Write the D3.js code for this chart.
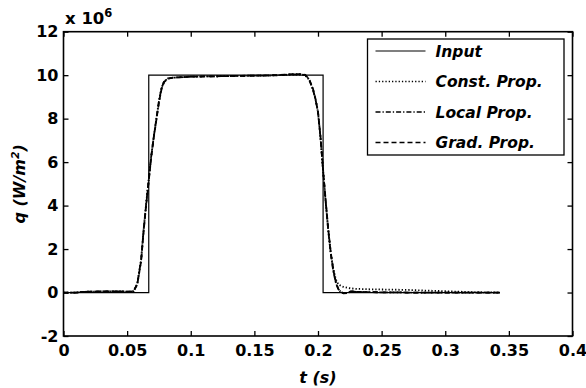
<!DOCTYPE html>
<html>
<head>
<meta charset="utf-8">
<script src="https://cdn.jsdelivr.net/npm/d3@7/dist/d3.min.js"></script>
<style>
  html, body { margin: 0; padding: 0; background: #fff; }
  svg { display: block; }
  svg text { font-family: "DejaVu Sans", "Liberation Sans", Arial, sans-serif; font-weight: bold; fill: #000; }
</style>
</head>
<body>
<svg id="chart" width="586" height="388"></svg>
<script>
// ---- data (q in units of 10^6 W/m^2) ----
const inputT = [0, 0.067, 0.067, 0.204, 0.204, 0.343];
const inputQ = [0, 0, 10, 10, 0, 0];

const estT = [0, 0.01, 0.015, 0.03, 0.045, 0.052, 0.055, 0.058, 0.061, 0.063, 0.065, 0.067, 0.069, 0.071, 0.073, 0.075, 0.077, 0.079, 0.082, 0.085, 0.09, 0.1, 0.12, 0.14, 0.16, 0.17, 0.18, 0.186, 0.19, 0.193, 0.196, 0.198, 0.200, 0.202, 0.204, 0.206, 0.208, 0.210, 0.212, 0.214, 0.216, 0.218, 0.220, 0.223, 0.226, 0.23, 0.24, 0.25, 0.26, 0.27, 0.28, 0.29, 0.30, 0.31, 0.32, 0.33, 0.343];
const constProp = [0, 0, 0.03, 0.05, 0.05, 0.04, 0.06, 0.4, 1.5, 2.9, 4.1, 5.2, 6.3, 7.2, 8.0, 8.8, 9.4, 9.7, 9.85, 9.88, 9.9, 9.93, 9.95, 9.97, 9.98, 10.0, 10.03, 10.03, 10.0, 9.8, 9.35, 8.9, 8.3, 7.1, 5.6, 4.2, 2.9, 1.85, 1.1, 0.6, 0.38, 0.3, 0.26, 0.22, 0.19, 0.17, 0.15, 0.14, 0.13, 0.12, 0.1, 0.08, 0.06, 0.04, 0.02, 0.01, 0];
const localProp = [0, 0, 0.03, 0.05, 0.05, 0.04, 0.05, 0.4, 1.5, 2.9, 4.1, 5.2, 6.3, 7.2, 8.0, 8.8, 9.4, 9.7, 9.85, 9.88, 9.9, 9.93, 9.95, 9.97, 9.98, 10.0, 10.04, 10.04, 10.0, 9.8, 9.35, 8.9, 8.3, 7.1, 5.6, 4.2, 2.9, 1.8, 1.0, 0.45, 0.15, 0.02, -0.04, -0.02, 0.05, 0.03, 0.02, 0.01, 0.01, 0, 0, 0, 0, 0, 0, 0, 0];
const gradProp = [0, 0, 0.03, 0.05, 0.05, 0.04, 0.05, 0.38, 1.45, 2.85, 4.05, 5.15, 6.25, 7.15, 7.95, 8.75, 9.35, 9.68, 9.84, 9.88, 9.9, 9.93, 9.95, 9.97, 9.99, 10.01, 10.05, 10.05, 10.01, 9.82, 9.38, 8.92, 8.32, 7.15, 5.65, 4.25, 2.95, 1.85, 1.05, 0.48, 0.16, 0.03, -0.03, -0.01, 0.06, 0.03, 0.02, 0.01, 0.01, 0, 0, 0, 0, 0, 0, 0, 0];

const xTicks = [0, 0.05, 0.1, 0.15, 0.2, 0.25, 0.3, 0.35, 0.4];
const xTickLabels = ["0", "0.05", "0.1", "0.15", "0.2", "0.25", "0.3", "0.35", "0.4"];
const yTicks = [-2, 0, 2, 4, 6, 8, 10, 12];
const yTickLabels = ["-2", "0", "2", "4", "6", "8", "10", "12"];

const seriesNames = ["Input", "Const. Prop.", "Local Prop.", "Grad. Prop."];
const seriesDash = [null, "1.3,2", "5,2,1.3,2", "5,3"];

// ---- layout ----
const svg = d3.select("#chart");
const L = 63.5, R = 572.5, T = 31.7, B = 336;
const x = d3.scaleLinear().domain([0, 0.4]).range([L, R]);
const y = d3.scaleLinear().domain([-2, 12]).range([B, T]);

const FS = 16;

const xAxisB = d3.axisBottom(x).tickValues(xTicks).tickFormat((d, i) => xTickLabels[i]).tickSizeInner(-5).tickSizeOuter(0).tickPadding(9);
const xAxisT = d3.axisTop(x).tickValues(xTicks).tickFormat("").tickSizeInner(-5).tickSizeOuter(0);
const yAxisL = d3.axisLeft(y).tickValues(yTicks).tickFormat((d, i) => yTickLabels[i]).tickSizeInner(-5).tickSizeOuter(0).tickPadding(5);
const yAxisR = d3.axisRight(y).tickValues(yTicks).tickFormat("").tickSizeInner(-5).tickSizeOuter(0);

function styleAxis(g) {
  g.attr("font-family", null).attr("font-size", null);
  g.select(".domain").remove();
  g.selectAll(".tick line").attr("stroke", "#000").attr("stroke-width", 1.3);
  g.selectAll(".tick text").attr("font-size", FS).attr("font-weight", "bold").attr("fill", "#000");
}
svg.append("g").attr("transform", `translate(0,${B})`).call(xAxisB).call(styleAxis);
svg.append("g").attr("transform", `translate(0,${T})`).call(xAxisT).call(styleAxis);
svg.append("g").attr("transform", `translate(${L},0)`).call(yAxisL).call(styleAxis);
svg.append("g").attr("transform", `translate(${R},0)`).call(yAxisR).call(styleAxis);

svg.append("rect").attr("x", L).attr("y", T).attr("width", R - L).attr("height", B - T)
  .attr("fill", "none").attr("stroke", "#000").attr("stroke-width", 1.6);

const line = d3.line().x(d => x(d[0])).y(d => y(d[1]));
const lineData = [
  inputT.map((t, i) => [t, inputQ[i]]),
  estT.map((t, i) => [t, constProp[i]]),
  estT.map((t, i) => [t, localProp[i]]),
  estT.map((t, i) => [t, gradProp[i]])
];
const plot = svg.append("g");
lineData.forEach((data, i) => {
  plot.append("path").datum(data).attr("d", line)
    .attr("fill", "none").attr("stroke", "#000")
    .attr("stroke-width", i === 0 ? 1.2 : 1.8)
    .attr("stroke-dasharray", seriesDash[i]);
});

// legend
const legX = 367.5, legY = 39, legW = 196.5, legH = 116;
svg.append("rect").attr("x", legX).attr("y", legY).attr("width", legW).attr("height", legH)
  .attr("fill", "#fff").attr("stroke", "#000").attr("stroke-width", 1.3);
seriesNames.forEach((name, i) => {
  const cy = legY + 12 + i * 30.5;
  svg.append("line").attr("x1", legX + 8).attr("x2", legX + 58).attr("y1", cy).attr("y2", cy)
    .attr("stroke", "#000").attr("stroke-width", i === 0 ? 1.2 : 1.3)
    .attr("stroke-dasharray", seriesDash[i]);
  svg.append("text").attr("x", legX + 68).attr("y", cy).attr("dy", "0.36em")
    .attr("font-size", 15.5).attr("font-style", "italic")
    .text(name);
});

// exponent label
const expT = svg.append("text").attr("x", 65).attr("y", 24).attr("font-size", 16.5);
expT.append("tspan").text("x 10");
expT.append("tspan").attr("dy", -7).attr("font-size", 11.5).text("6");

// axis labels
svg.append("text").attr("x", (L + R) / 2).attr("y", 383).attr("text-anchor", "middle")
  .attr("font-size", 16).attr("font-style", "italic").text("t (s)");
const yl = svg.append("text").attr("transform", `translate(25,${(T + B) / 2}) rotate(-90)`)
  .attr("text-anchor", "middle").attr("font-size", 16).attr("font-style", "italic");
yl.append("tspan").text("q (W/m");
yl.append("tspan").attr("dy", -6).attr("font-size", 11).text("2");
yl.append("tspan").attr("dy", 6).text(")");
</script>
</body>
</html>
